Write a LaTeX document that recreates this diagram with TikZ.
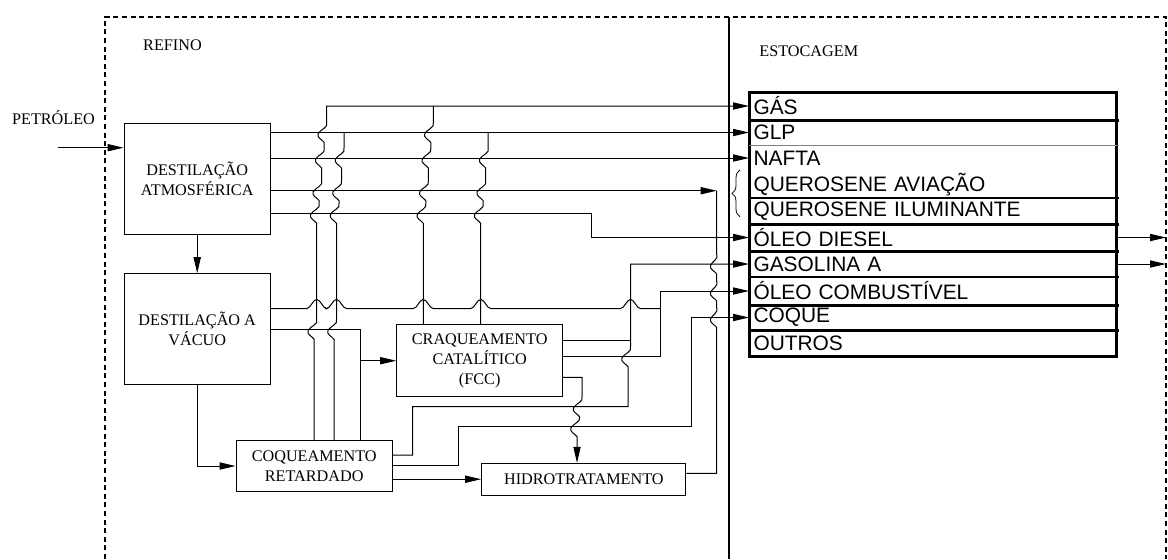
\documentclass[tikz,border=0pt]{standalone}
\usepackage{fontspec}
\setmainfont{Liberation Serif}
\newfontfamily\tblfont{Liberation Sans}
\usetikzlibrary{arrows.meta,decorations.pathreplacing}
% wiggle of a vertical line where a horizontal one crosses it
\newcommand{\wvup}[3]{%
  -- (#2,#3+10) .. controls (#2-2,#3+7) and (#2-8,#3+5) .. (#2-6,#3+1)
  .. controls (#2-4,#3-3) and (#2+#1+2,#3-5) .. (#2+#1,#3-10)}
\newcommand{\wvdown}[3]{%
  -- (#2,#3-10) .. controls (#2+2,#3-5) and (#2-#1-4,#3-3) .. (#2-#1-6,#3+1)
  .. controls (#2-#1-8,#3+5) and (#2-#1-2,#3+7) .. (#2-#1,#3+10)}
% hop of a horizontal line over a vertical one
\newcommand{\hop}[2]{%
  -- (#1-10,#2) .. controls (#1-6,#2) and (#1-4,#2-9) .. (#1,#2-9)
  .. controls (#1+4,#2-9) and (#1+6,#2) .. (#1+10,#2)}

\begin{document}
\begin{tikzpicture}[x=0.5pt,y=-0.5pt,>={Triangle[length=8pt,width=3.6pt]},
    line width=0.5pt,
    every node/.style={font=\fontsize{8.1}{10}\selectfont},
    unit/.style={draw,align=center,inner sep=0pt},
    row/.style={anchor=west,inner xsep=2pt,inner ysep=0pt,text width=179.85pt,
      align=left,font=\tblfont\fontsize{10.45}{12}\selectfont},
    frame/.style={line width=1pt,dash pattern=on 2.5pt off 1.8pt}]
  \useasboundingbox (0,0) rectangle (1168,559);
  \draw[frame] (105,559) -- (105,17) -- (1166,17) -- (1166,559);
  \draw[line width=1pt] (729,17) -- (729,559);

  \node (refino) at (172.5,45) {REFINO};
  \node (estoc) at (808.8,51.7) {ESTOCAGEM};
  \node (petro) at (53.5,118) {PETRÓLEO};

  \node[unit,minimum width=73.15pt,minimum height=55.35pt] (atm) at (197.2,178.7)
    {DESTILAÇÃO\\ATMOSFÉRICA};
  \node[unit,minimum width=73.15pt,minimum height=55.3pt] (vac) at (197.2,329)
    {DESTILAÇÃO A\\VÁCUO};
  \node[unit,minimum width=78.15pt,minimum height=25.7pt] (coq) at (314.2,466)
    {COQUEAMENTO\\RETARDADO};
  \node[unit,minimum width=83pt,minimum height=36pt] (fcc) at (479.7,360.7)
    {CRAQUEAMENTO\\CATALÍTICO\\(FCC)};
  \node[unit,minimum width=102.15pt,minimum height=15.85pt] (hdt) at (583.8,479.2)
    {HIDROTRATAMENTO};

  % storage table
  \foreach \n/\t/\y in {gas/GÁS/106,glp/GLP/132.5,naf/NAFTA/158,qav/QUEROSENE AVIAÇÃO/184.5,
      qil/QUEROSENE ILUMINANTE/211,die/ÓLEO DIESEL/237.5,gsa/GASOLINA A/264,
      ocb/ÓLEO COMBUSTÍVEL/291,cqe/COQUE/317.5,out/OUTROS/343}
    \node[row] (\n) at (749,\y) {\t};
  \draw[line width=1.5pt] (749,92) rectangle (1116.7,356);
  \foreach \y/\w in {120/1.5,224/1.5,251/1.5,305/1.5,330/1.5,198/0.9,277/0.9}
    \draw[line width=\w pt] (749,\y) -- (1119,\y);
  \draw[line width=0.5pt,gray] (749,145) -- (1119,145);
  \draw[decorate,decoration={brace,amplitude=4pt},line width=0.4pt] (740,216.7) -- (740,170);

  \coordinate (crude) at (57.7,147.7);
  \coordinate (brc) at (716.7,190.7);
  \coordinate (dsl) at (591.7,213.3);
  \coordinate (gsx) at (630.5,340.7);
  \coordinate (ocx) at (660,356.7);

  % feed
  \draw[->] (crude) -- (crude -| atm.west);
  \draw[->] (atm.south) -- (vac.north);
  \draw[->] (vac.south) |- (coq.west);

  % atmospheric cuts
  \draw[->] (atm.east |- glp) -- (glp.west);
  \draw[->] (atm.east |- naf) -- (naf.west);
  \draw[->] (atm.east |- brc) -- (brc);
  \draw[->] (atm.east |- dsl) -- (dsl) |- (die.west);

  % gas and lpg risers
  \draw[->] (coq.north) \wvup{2.5}{314.2}{329.3} \wvup{2.5}{316.7}{213.3}
    \wvup{2.5}{319.2}{190.7} \wvup{2.5}{321.7}{158} \wvup{2.5}{324.2}{132.5} |- (gas.west);
  \draw (coq.north -| 334,0) \wvup{2.5}{334}{329.3} \wvup{2.5}{336.5}{213.3}
    \wvup{2.5}{339}{190.7} \wvup{2.5}{341.5}{158} -- (glp.west -| 344,0);
  \draw (fcc.north -| 423.3,0) \wvup{2.5}{423.3}{213.3} \wvup{2.5}{425.8}{190.7}
    \wvup{2.5}{428.3}{158} \wvup{2.5}{430.8}{132.5} -- (gas.west -| 433.3,0);
  \draw (fcc.north -| 480.7,0) \wvup{2.5}{480.7}{213.3} \wvup{2.5}{483.2}{190.7}
    \wvup{2.5}{485.7}{158} -- (glp.west -| 488.2,0);

  % vacuum outlets
  \draw (vac.east |- 0,308.5) \hop{316.7}{308.5} \hop{336.5}{308.5} \hop{423.3}{308.5}
    \hop{480.7}{308.5} \hop{630.5}{308.5} -- (ocx |- 0,308.5);
  \draw (vac.east |- 0,329.3) -| (coq.north -| 360,0);
  \draw[->] (fcc.west -| 360,0) -- (fcc.west);

  % fcc outlets
  \draw (fcc.east |- gsx) -- (gsx);
  \draw[->] (fcc.east |- ocx) -- (ocx) |- (ocb.west);
  \draw[->] (fcc.east |- 0,377.3) -- (582,377.3) \wvdown{2.5}{582}{406.7}
    \wvdown{2.5}{579.5}{426.7} -- (hdt.north -| 577,0);

  % coker outlets
  \draw[->] (coq.east |- 0,455) -| (412.7,406.7) -- (628,406.7)
    \wvup{2.5}{628}{356.7} |- (gsa.west);
  \draw[->] (coq.east |- 0,465) -| (458.3,426.7) -| (cqe.west -| 691.7,0) -- (cqe.west);
  \draw[->] (coq.east |- hdt) -- (hdt.west);

  % hydrotreated kerosene
  \draw (hdt.east |- 0,473.3) -| (brc |- 0,327.5) \wvup{0}{716.7}{317.5}
    \wvup{0}{716.7}{291} \wvup{0}{716.7}{264} -- (brc);

  % to distribution
  \draw[->] (die.east) -- (die.east -| 1166,0);
  \draw[->] (gsa.east) -- (gsa.east -| 1166,0);
\end{tikzpicture}
\end{document}
